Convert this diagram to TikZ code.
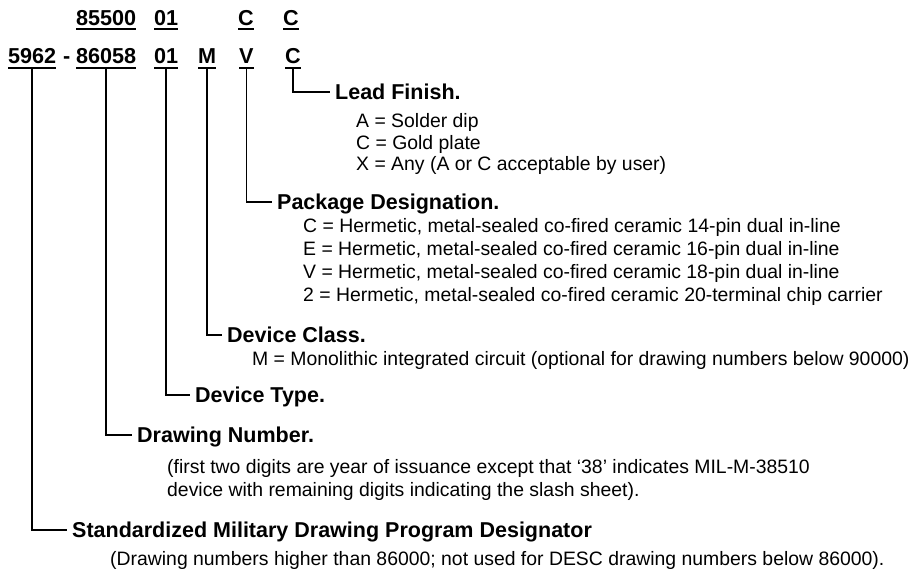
\documentclass[tikz,border=0pt]{standalone}
\usepackage{fontspec}
\setmainfont{Liberation Sans}
\begin{document}
\begin{tikzpicture}[x=1pt,y=-1pt,
  num/.style={font=\fontsize{21.6}{24}\selectfont\bfseries, inner sep=0pt, anchor=base west},
  hd/.style={font=\fontsize{21.5}{24}\selectfont\bfseries, inner xsep=5pt, inner ysep=0pt, text height=15.4pt, text depth=0pt, anchor=base west},
  bd/.style={font=\fontsize{19.4}{23}\selectfont, inner sep=0pt, anchor=base west},
  ln/.style={line width=1.6pt},
  ul/.style={line width=1.5pt}]
\useasboundingbox (0,0) rectangle (912,570);
% top row
\node[num] (t1) at (76,25) {85500};
\node[num] (t2) at (154,25) {01};
\node[num] (t3) at (238,25) {C};
\node[num] (t4) at (283,25) {C};
% main row
\node[num] (n1) at (8,63) {5962};
\node[num] (dash) at (63,63) {-};
\node[num] (n2) at (76,63) {86058};
\node[num] (n3) at (154,63) {01};
\node[num] (n4) at (198,63) {M};
\node[num] (n5) at (239,63) {V};
\node[num] (n6) at (285,63) {C};
\foreach \n in {t1,t2,t3,t4}{
  \draw[ul] ([yshift=-4pt]\n.base west) -- ([yshift=-4pt]\n.base east);}
\foreach \n in {n1,n2,n3,n4,n5,n6}{
  \draw[ul] ([yshift=-5pt]\n.base west) -- ([yshift=-5pt]\n.base east);}
% headings
\node[hd] (h6) at (330,99.7) {Lead Finish.};
\node[hd] (h5) at (272,209.7) {Package Designation.};
\node[hd] (h4) at (222,342.7) {Device Class.};
\node[hd] (h3) at (190,402.7) {Device Type.};
\node[hd] (h2) at (132,442.7) {Drawing Number.};
\node[hd] (h1) at (67,537.7) {Standardized Military Drawing Program Designator};
% connectors
\draw[ln] ([yshift=-5pt]n6.base) |- (h6.west);
\draw[ln] ([yshift=-5pt]n5.base) |- (h5.west);
\draw[ln] ([yshift=-5pt]n4.base) |- (h4.west);
\draw[ln] ([yshift=-5pt]n3.base) |- (h3.west);
\draw[ln] ([yshift=-5pt]n2.base) |- (h2.west);
\draw[ln] ([yshift=-5pt]n1.base) |- (h1.west);
% body texts
\node[bd] (a1) at (356,127) {A = Solder dip};
\node[bd] (a2) at (356,149) {C = Gold plate};
\node[bd] (a3) at (356,170) {X = Any (A or C acceptable by user)};
\node[bd] (p1) at (303,232) {C = Hermetic, metal-sealed co-fired ceramic 14-pin dual in-line};
\node[bd] (p2) at (303,255) {E = Hermetic, metal-sealed co-fired ceramic 16-pin dual in-line};
\node[bd] (p3) at (303,278) {V = Hermetic, metal-sealed co-fired ceramic 18-pin dual in-line};
\node[bd] (p4) at (303,301) {2 = Hermetic, metal-sealed co-fired ceramic 20-terminal chip carrier};
\node[bd] (m1) at (252,365) {M = Monolithic integrated circuit (optional for drawing numbers below 90000)};
\node[bd] (d1) at (167,473) {(first two digits are year of issuance except that ‘38’ indicates MIL-M-38510};
\node[bd] (d2) at (167,496) {device with remaining digits indicating the slash sheet).};
\node[bd] (s1) at (110,565) {(Drawing numbers higher than 86000; not used for DESC drawing numbers below 86000).};
\end{tikzpicture}
\end{document}
